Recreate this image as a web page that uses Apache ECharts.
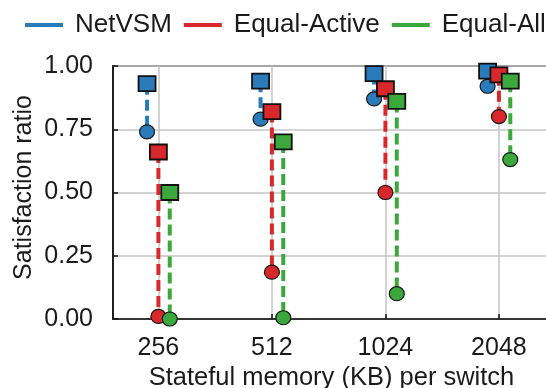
<!DOCTYPE html>
<html>
<head>
<meta charset="utf-8">
<script src="https://cdn.jsdelivr.net/npm/echarts@6/dist/echarts.min.js"></script>
<style>html,body{margin:0;padding:0;background:#fff}#c{width:546px;height:388px}</style>
</head>
<body>
<div id="c"></div>
<script>
const categories = ['256', '512', '1024', '2048'];
const seriesNames = ['NetVSM', 'Equal-Active', 'Equal-All'];
const netvsmMin = [0.74, 0.79, 0.87, 0.92];
const netvsmMax = [0.93, 0.94, 0.97, 0.98];
const activeMin = [0.01, 0.185, 0.50, 0.80];
const activeMax = [0.66, 0.82, 0.91, 0.965];
const allMin = [0.0, 0.005, 0.10, 0.63];
const allMax = [0.50, 0.70, 0.86, 0.94];
const yTicks = [0, 0.25, 0.5, 0.75, 1.0];

const colors = ['#2b7bba', '#d9282b', '#3aa83a'];
const FONT = 'Liberation Sans, Arial, sans-serif';
const catIdx = categories.map((c, i) => i);

function makeSeries(name, color, mins, maxs, offset) {
  return {
    type: 'custom',
    name: name,
    clip: false,
    data: categories.map((c, i) => [i, mins[i], maxs[i]]),
    encode: { x: 0, y: [1, 2] },
    renderItem: function (params, api) {
      const x = api.value(0) + offset;
      const pMin = api.coord([x, api.value(1)]);
      const pMax = api.coord([x, api.value(2)]);
      return {
        type: 'group',
        children: [
          { type: 'line', shape: { x1: pMax[0], y1: pMax[1], x2: pMin[0], y2: pMin[1] },
            style: { stroke: color, lineWidth: 4, lineDash: [11, 5] } },
          { type: 'ellipse', shape: { cx: pMin[0], cy: pMin[1], rx: 7.5, ry: 7 },
            style: { fill: color, stroke: '#1a1a1a', lineWidth: 1.2 } },
          { type: 'rect', shape: { x: pMax[0] - 8.5, y: pMax[1] - 7.5, width: 17, height: 15 },
            style: { fill: color, stroke: '#111', lineWidth: 1.8 } }
        ]
      };
    }
  };
}

const chart = echarts.init(document.getElementById('c'), null, { renderer: 'canvas' });
chart.setOption({
  animation: false,
  backgroundColor: '#fff',
  textStyle: { fontFamily: FONT },
  legend: {
    left: 25, top: 12, width: 620, padding: 0,
    itemWidth: 38, itemHeight: 4, itemGap: 12,
    icon: 'rect',
    data: seriesNames,
    textStyle: { fontSize: 26, color: '#1a1a1a', fontFamily: FONT, padding: [0, 0, 0, 7] }
  },
  grid: {
    left: 113, top: 66, width: 437, height: 253,
    outerBoundsMode: 'none',
    show: true, borderColor: '#111', borderWidth: 1.5, containLabel: false
  },
  xAxis: {
    type: 'value', min: -0.4, max: 3.45,
    name: 'Stateful memory (KB) per switch',
    nameLocation: 'middle', nameGap: 46, nameMoveOverlap: false,
    nameTextStyle: { fontSize: 25.5, color: '#1a1a1a', fontFamily: FONT },
    axisLine: { show: true, onZero: false, lineStyle: { color: '#111', width: 1.5 } },
    axisTick: { show: true, inside: true, length: 5, customValues: catIdx, lineStyle: { color: '#111', width: 1.5 } },
    axisLabel: { customValues: catIdx, formatter: v => categories[Math.round(v)], fontSize: 25, color: '#1a1a1a', margin: 17, fontFamily: FONT },
    splitLine: { show: true, lineStyle: { color: '#c4c4c4', width: 1.5 } }
  },
  yAxis: {
    type: 'value', min: 0, max: 1, interval: 0.25,
    name: 'Satisfaction ratio',
    nameLocation: 'middle', nameGap: 76, nameMoveOverlap: false,
    nameTextStyle: { fontSize: 25, color: '#1a1a1a', fontFamily: FONT, padding: [0, 0, 0, 10] },
    axisLine: { show: true, onZero: false, lineStyle: { color: '#111', width: 1.5 } },
    axisTick: { show: true, inside: true, length: 5, lineStyle: { color: '#111', width: 1.5 } },
    axisLabel: { formatter: v => v.toFixed(2), fontSize: 25, color: '#1a1a1a', margin: 20, fontFamily: FONT },
    splitLine: { show: true, lineStyle: { color: '#c4c4c4', width: 1.5 } }
  },
  series: [
    makeSeries(seriesNames[0], colors[0], netvsmMin, netvsmMax, -0.1),
    makeSeries(seriesNames[1], colors[1], activeMin, activeMax, 0),
    makeSeries(seriesNames[2], colors[2], allMin, allMax, 0.1)
  ],
  color: colors
});
</script>
</body>
</html>
